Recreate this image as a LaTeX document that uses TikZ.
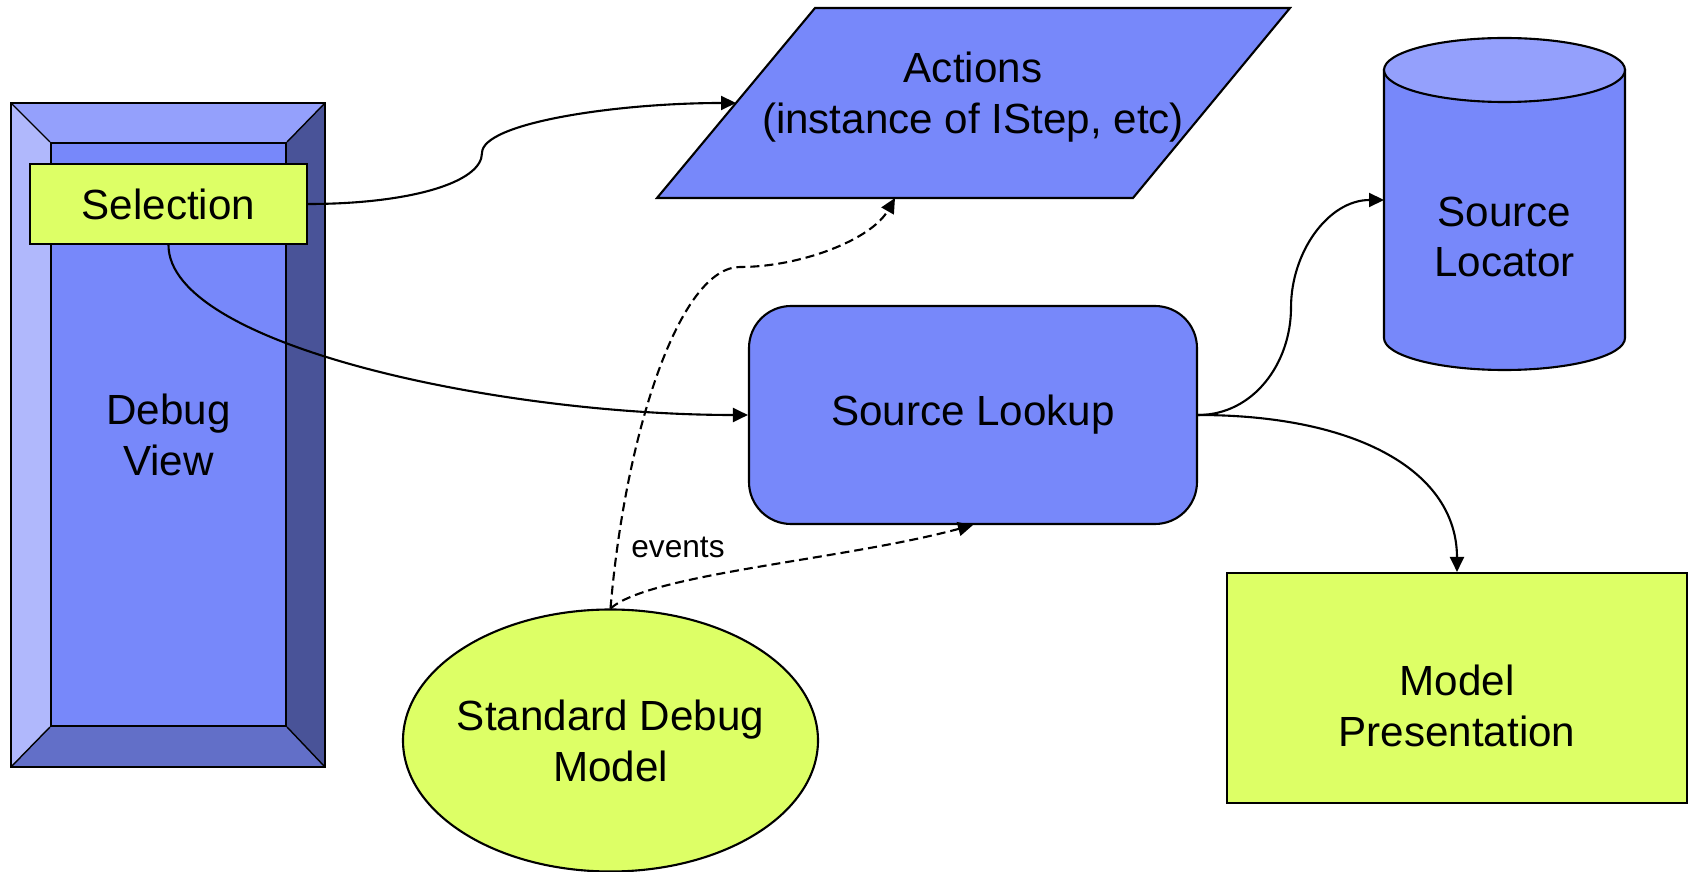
\documentclass[tikz,border=0pt]{standalone}
\usepackage{fontspec}
\setmainfont{Liberation Sans}
\usetikzlibrary{shapes.geometric, arrows.meta, calc, backgrounds}
\definecolor{blueBox}{RGB}{119,136,250}
\definecolor{blueTop}{RGB}{148,160,252}
\definecolor{blueLeft}{RGB}{176,184,252}
\definecolor{blueRight}{RGB}{73,83,152}
\definecolor{blueBottom}{RGB}{98,111,200}
\definecolor{limeBox}{RGB}{221,255,102}

\begin{document}
\begin{tikzpicture}[
    line width=0.6pt,
    box/.style={rectangle, draw, align=center, inner sep=0pt, font=\fontsize{12}{14.5}\selectfont},
    txt/.style={align=center, font=\fontsize{12}{14.5}\selectfont},
    evt/.style={->, dash pattern=on 0.9mm off 0.5mm},
    >={Triangle[length=1.5mm, width=1.4mm]}
]
\useasboundingbox (0,0) rectangle (16.93,-8.72);

% debug view with its bevelled frame
\node[box, fill=blueBox, minimum width=2.35cm, minimum height=5.83cm] (dbg) at (1.685,-4.345) {Debug\\View};
\coordinate (onw) at (0.11,-1.03);
\coordinate (one) at (3.25,-1.03);
\coordinate (ose) at (3.25,-7.67);
\coordinate (osw) at (0.11,-7.67);
\begin{scope}[on background layer]
\fill[blueTop] (onw) -- (one) -- (dbg.north east) -- (dbg.north west) -- cycle;
\fill[blueRight] (one) -- (ose) -- (dbg.south east) -- (dbg.north east) -- cycle;
\fill[blueBottom] (ose) -- (osw) -- (dbg.south west) -- (dbg.south east) -- cycle;
\fill[blueLeft] (osw) -- (onw) -- (dbg.north west) -- (dbg.south west) -- cycle;
\draw (onw) rectangle (ose);
\draw (onw) -- (dbg.north west) (one) -- (dbg.north east) (ose) -- (dbg.south east) (osw) -- (dbg.south west);
\end{scope}
\node[box, fill=limeBox, minimum width=2.77cm, minimum height=0.80cm] (sel) at (1.685,-2.04) {Selection};

% actions parallelogram
\filldraw[fill=blueBox] (6.57,-1.98) -- (8.15,-0.08) -- (12.90,-0.08) -- (11.33,-1.98) -- cycle;
\node[txt] (act) at (9.73,-0.97) {Actions\\ (instance of IStep, etc)};
\coordinate (actin) at (7.36,-1.03);
\coordinate (actbot) at (8.95,-1.98);

\node[box, rounded corners=0.42cm, fill=blueBox, minimum width=4.48cm, minimum height=2.18cm] (look) at (9.73,-4.15) {Source Lookup};
\node[box, fill=limeBox, minimum width=4.60cm, minimum height=2.30cm,
    label={[txt, yshift=-0.18cm]center:Model\\Presentation}] (pres) at (14.57,-6.88) {};
\node[box, ellipse, fill=limeBox, minimum width=4.15cm, minimum height=2.62cm,
    label={[txt]center:Standard Debug\\Model}] (sdm) at (6.105,-7.405) {};

% source locator cylinder
\filldraw[fill=blueBox] (13.84,-0.70) -- (13.84,-3.38) arc[start angle=180, end angle=360, x radius=1.205, y radius=0.32] -- (16.25,-0.70) -- cycle;
\filldraw[fill=blueTop] (15.045,-0.70) ellipse [x radius=1.205, y radius=0.32];
\node[txt] (loc) at (15.045,-2.37) {Source\\Locator};
\coordinate (locin) at (13.84,-2.00);

\node[font=\fontsize{9}{11}\selectfont] (evlbl) at (6.78,-5.47) {events};

\coordinate (bend1) at (4.82,-1.53);
\coordinate (bend2) at (7.40,-2.67);

\draw[->] (sel.east) .. controls +(1.0,0) and +(0,-0.3) .. (bend1) .. controls +(0,0.3) and +(-1.2,0) .. (actin);
\draw[->] (sel.south) .. controls +(0,-1.0) and +(-2.5,0) .. (look.west);
\draw[->] (look.east) to[out=0,in=-90] ($(look.east)!0.5!(locin)$) to[out=90,in=180] (locin);
\draw[->] (look.east) .. controls +(1.6,0) and +(0,1.0) .. (pres.north);
\draw[evt] (sdm.north) .. controls +(0.15,1.77) and +(-0.6,0) .. (bend2) .. controls +(0.6,0) and +(-0.24,-0.42) .. (actbot);
\draw[evt] (sdm.north) .. controls +(0.4,0.35) and +(-1.3,-0.35) .. (look.south);
\end{tikzpicture}
\end{document}
